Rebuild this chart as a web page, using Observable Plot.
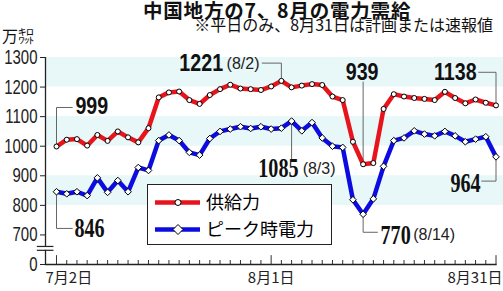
<!DOCTYPE html>
<html><head><meta charset="utf-8">
<script src="https://cdn.jsdelivr.net/npm/d3@7"></script>
<script src="https://cdn.jsdelivr.net/npm/@observablehq/plot@0.6"></script>
<style>
body{margin:0;background:#fff;}
#wrap{position:relative;width:503px;height:291px;overflow:hidden;font-family:"Noto Sans CJK JP",sans-serif;color:#111;}
#chart{position:absolute;left:0;top:0;}
.title{position:absolute;left:143px;top:1px;font-size:19.5px;line-height:17px;height:17px;font-weight:bold;white-space:nowrap;letter-spacing:0.8px;}
.sub{position:absolute;right:10px;top:18px;font-size:16px;line-height:13px;height:13px;white-space:nowrap;}
.unit{position:absolute;left:2px;top:28px;font-size:16px;line-height:14px;height:14px;white-space:nowrap;}
#legend{position:absolute;left:147px;top:184px;}
</style></head>
<body><div id="wrap">
<div id="chart"></div>
<div class="title">中国地方の7、8月の電力需給</div>
<div class="sub">※平日のみ、8月31日は計画または速報値</div>
<div class="unit">万㌗</div>
<svg id="legend" width="186" height="62">
  <rect x="0.5" y="0.5" width="184" height="60" fill="#fff" stroke="#222"/>
  <line x1="8" x2="53" y1="18.5" y2="18.5" stroke="#e8141c" stroke-width="4.5"/>
  <circle cx="31" cy="18.5" r="3" fill="#fff" stroke="#000"/>
  <text x="59" y="18.5" dy="0.36em" font-size="18" font-family="Noto Sans CJK JP">供給力</text>
  <line x1="8" x2="53" y1="45.5" y2="45.5" stroke="#0c0ce0" stroke-width="4.5"/>
  <path d="M31,40.5L36,45.5L31,50.5L26,45.5Z" fill="#fff" stroke="#000"/>
  <text x="59" y="45.5" dy="0.36em" font-size="18" font-family="Noto Sans CJK JP">ピーク時電力</text>
</svg>
</div>
<script>
// ---- data ----
const dates = ["7/2","7/3","7/4","7/5","7/6","7/9","7/10","7/11","7/12","7/13","7/17","7/18","7/19","7/20","7/23","7/24","7/25","7/26","7/27","7/30","7/31",
  "8/1","8/2","8/3","8/6","8/7","8/8","8/9","8/10","8/13","8/14","8/15","8/16","8/17","8/20","8/21","8/22","8/23","8/24","8/27","8/28","8/29","8/30","8/31"];
const supply = [999,1022,1024,1002,1038,1018,1050,1030,1013,1061,1165,1182,1185,1156,1143,1173,1193,1208,1195,1193,1190,
  1202,1221,1199,1205,1210,1207,1168,1156,1015,939,943,1126,1176,1168,1163,1160,1156,1184,1163,1145,1158,1147,1138];
const peak = [846,839,846,833,893,844,884,846,928,918,1019,1038,1019,979,970,1026,1050,1058,1066,1060,1066,
  1058,1061,1085,1052,1080,1028,1000,996,819,770,822,932,1019,1028,1052,1041,1035,1050,1035,1015,1024,1032,964];
const yTicks = [600,700,800,900,1000,1100,1200,1300];
const yTickLabels = ["0","700","800","900","1000","1100","1200","1300"];
const majorDates = ["7/2","8/1","8/31"];
const majorLabels = ["7月2日","8月1日","8月31日"];
const bands = [[1200,1300],[1000,1100],[800,900]];

// ---- build ----
const idx = dates.map((d,i)=>i);
const rowsS = dates.map((d,i)=>({i, v:supply[i]}));
const rowsP = dates.map((d,i)=>({i, v:peak[i]}));
const X0 = -1.0762, X1 = 43.733;
const SANS_B = "Liberation Sans,Arial";
const SERIF_B = "Liberation Serif";
const AXIS = "Liberation Sans,sans-serif";

// annotation callouts: anchor point taken from series; leader + text layout
const annos = [
  {s:supply, i:0,  path:[[0,1131],[1.54,1131]], tx:1.85, ty:1134, anchor:"start", fam:SANS_B},
  {s:peak,   i:0,  path:[[0,722],[1.54,722]],   tx:1.75, ty:722,  anchor:"start", fam:SERIF_B},
  {s:supply, i:22, path:[[22,1281],[20.13,1281]], tx:16.3, ty:1279, anchor:"end", fam:SANS_B, note:"(8/2)", nx:19.86, nAnchor:"end"},
  {s:peak,   i:23, path:[[23,955]],             tx:23.68, ty:925, anchor:"end", fam:SERIF_B, note:"(8/3)", nx:27.3, nAnchor:"end"},
  {s:supply, i:30, path:[[30,1217]],            tx:29.9, ty:1251, anchor:"middle", fam:SANS_B},
  {s:supply, i:43, path:[[43,1250],[41.3,1250]], tx:41.1, ty:1251, anchor:"end", fam:SANS_B},
  {s:peak,   i:43, path:[[43,882],[41.6,882]],   tx:41.5, ty:874, anchor:"end", fam:SERIF_B},
  {s:peak,   i:30, path:[[30,709],[31.4,709]],   tx:31.7, ty:701, anchor:"start", fam:SERIF_B, note:"(8/14)", nx:34.9, nAnchor:"start"}
];
const leaderPts = annos.flatMap((a,k)=>[[a.i,a.s[a.i]],...a.path].map(p=>({k,x:p[0],y:p[1]})));

const textMarks = [];
for (const a of annos) {
  textMarks.push(Plot.text([a], {x:"tx", y:"ty", text:d=>String(d.s[d.i]), textAnchor:a.anchor, lineAnchor:"middle",
    fontFamily:a.fam, fontWeight:"bold", fontSize: a.fam===SANS_B ? 24 : 28, fill:"#111"}));
  if (a.note) textMarks.push(Plot.text([a], {x:"nx", y:"ty", text:"note", textAnchor:a.nAnchor, lineAnchor:"middle",
    fontFamily:"Liberation Sans", fontSize:16, fill:"#222"}));
}

const anchors = ["start","middle","end"];
const dxs = [-11,0,6.5];
const xLabelMarks = majorDates.map((d,k)=>Plot.text([k], {x:()=>dates.indexOf(d), y:()=>600, text:()=>majorLabels[k],
  textAnchor:anchors[k], dx:dxs[k], dy:14, lineAnchor:"middle", fontSize:15, fontFamily:"Noto Sans CJK JP", fill:"#222"}));

const chart = Plot.plot({
  width:503, height:291, marginLeft:45, marginRight:0, marginTop:57, marginBottom:27,
  style:{background:"transparent", overflow:"visible"},
  x:{type:"linear", domain:[X0,X1], axis:null},
  y:{domain:[600,1300], axis:null},
  marks:[
    Plot.rectY(bands, {y1:d=>d[0], y2:d=>d[1], fill:"#e8f7f8"}),
    // axes
    Plot.ruleX(idx.filter(i=>!majorDates.includes(dates[i])), {x:d=>d, y1:600, y2:613.5, stroke:"#333", strokeWidth:1}),
    Plot.ruleX(majorDates.map(d=>dates.indexOf(d)), {x:d=>d, y1:600, y2:630, stroke:"#333", strokeWidth:1}),
    Plot.ruleY([600], {x1:X0, x2:43.12, stroke:"#222", strokeWidth:1.3}),
    Plot.ruleX([X0], {y1:600, y2:1300, stroke:"#222", strokeWidth:1.3}),
    Plot.rect([0], {x1:X0-0.7, x2:X0+0.4, y1:648, y2:661, fill:"#fff"}),
    Plot.ruleY([648,661], {x1:X0-0.8, x2:-0.25, stroke:"#222", strokeWidth:1.2}),
    Plot.axisY(yTicks, {anchor:"left", tickSize:5, tickPadding:3, label:null, tickFormat:(d,i)=>yTickLabels[yTicks.indexOf(d)],
      fontSize:20.5, fontFamily:AXIS, stroke:"#222", fill:"#222"}),
    ...xLabelMarks,
    // leaders
    Plot.line(leaderPts, {x:"x", y:"y", z:"k", stroke:"#666", strokeWidth:1}),
    // series
    Plot.line(rowsS, {x:"i", y:"v", stroke:"#e8141c", strokeWidth:4.5}),
    Plot.line(rowsP, {x:"i", y:"v", stroke:"#0c0ce0", strokeWidth:4.5}),
    Plot.dot(rowsS, {x:"i", y:"v", r:2.5, fill:"#fff", stroke:"#000", strokeWidth:1}),
    Plot.dot(rowsP, {x:"i", y:"v", r:3, symbol:"diamond2", fill:"#fff", stroke:"#000", strokeWidth:1}),
    ...textMarks
  ]
});
document.getElementById("chart").appendChild(chart);

// condense numeric fonts horizontally
const squeezeMap = {[SANS_B]:0.82, [SERIF_B]:0.72, [AXIS]:0.73};
chart.querySelectorAll("[font-family]").forEach(el=>{
  const s = squeezeMap[el.getAttribute("font-family")];
  if (!s) return;
  const texts = el.tagName.toLowerCase()==="text" ? [el] : el.querySelectorAll("text");
  texts.forEach(t=>{
    const tr = t.getAttribute("transform");
    if (tr) t.setAttribute("transform", tr + ` scale(${s},1)`);
    else {
      const x = +t.getAttribute("x")||0, y = +t.getAttribute("y")||0;
      t.removeAttribute("x"); t.removeAttribute("y");
      t.setAttribute("transform", `translate(${x},${y}) scale(${s},1)`);
    }
  });
});
</script>
</body></html>
